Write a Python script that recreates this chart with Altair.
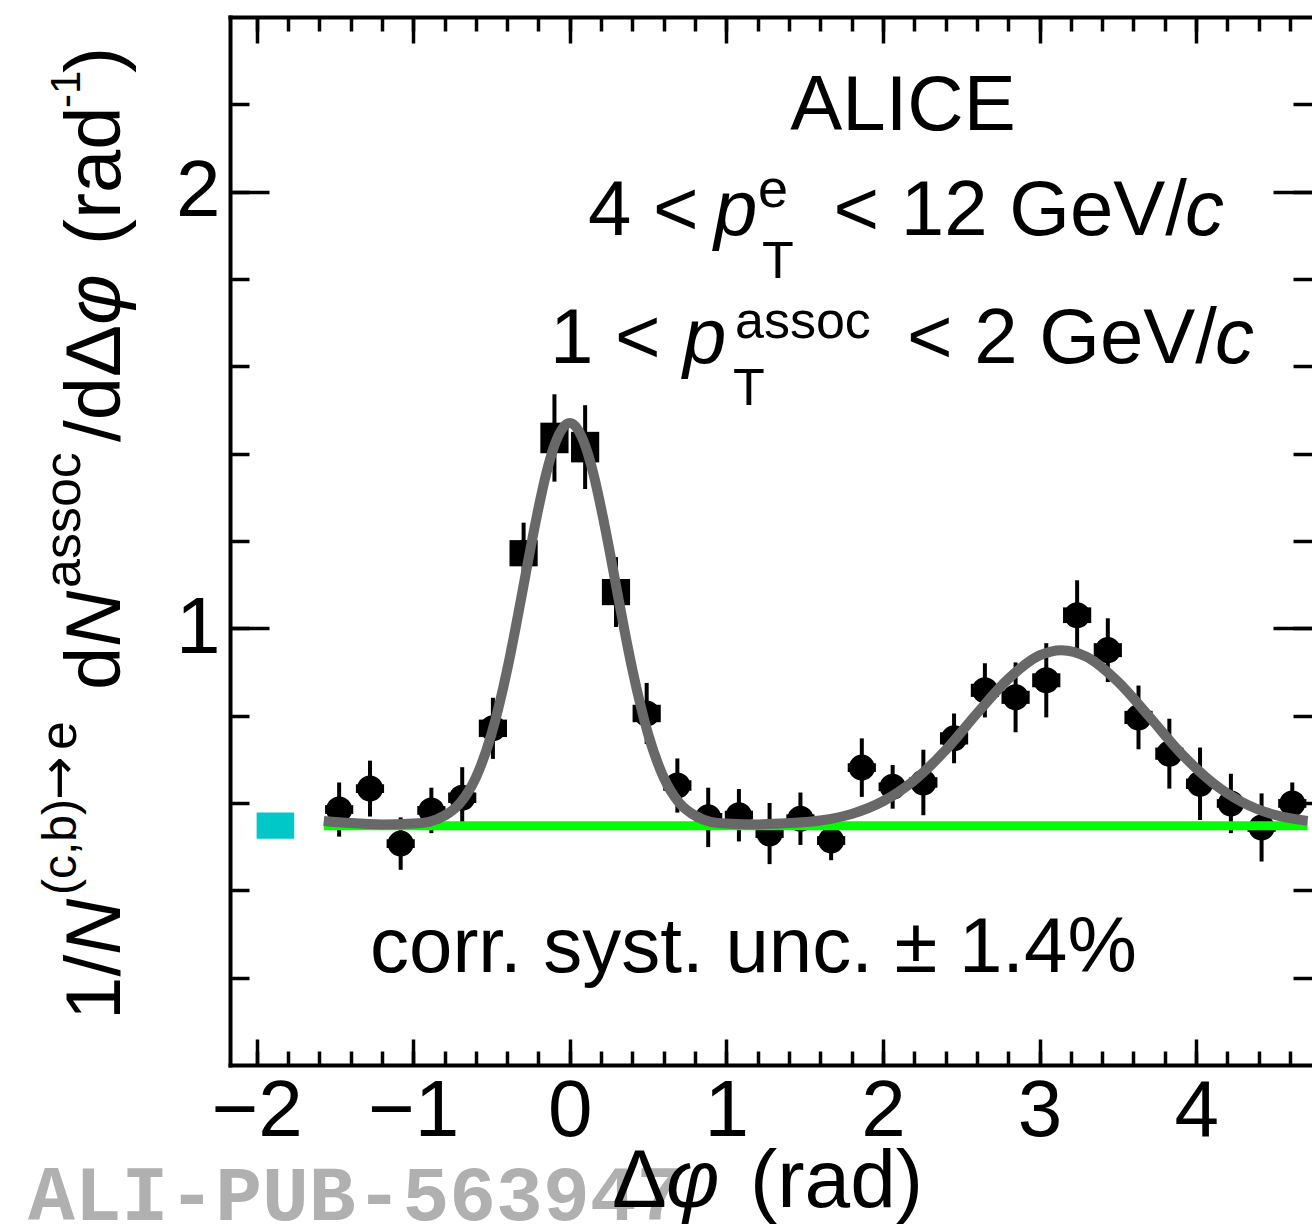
import altair as alt
import pandas as pd

# ---------------- data ----------------
dphi = [-1.473, -1.276, -1.080, -0.884, -0.687, -0.491, -0.295, -0.098,
        0.098, 0.295, 0.491, 0.687, 0.884, 1.080, 1.276, 1.473,
        1.669, 1.865, 2.062, 2.258, 2.454, 2.651, 2.847, 3.043,
        3.240, 3.436, 3.632, 3.829, 4.025, 4.222, 4.418, 4.614]
yield_vals = [0.585, 0.633, 0.507, 0.583, 0.612, 0.771, 1.172, 1.436,
              1.415, 1.083, 0.805, 0.640, 0.567, 0.572, 0.530, 0.564,
              0.514, 0.681, 0.637, 0.647, 0.748, 0.858, 0.842, 0.881,
              1.030, 0.950, 0.796, 0.713, 0.644, 0.599, 0.544, 0.599]
stat_err = [0.062, 0.064, 0.060, 0.052, 0.070, 0.070, 0.070, 0.100,
            0.096, 0.080, 0.070, 0.062, 0.068, 0.060, 0.070, 0.060,
            0.045, 0.067, 0.050, 0.075, 0.057, 0.062, 0.080, 0.085,
            0.080, 0.073, 0.073, 0.080, 0.083, 0.068, 0.078, 0.048]
syst_err = [0.010, 0.010, 0.010, 0.010, 0.012, 0.020, 0.030, 0.035,
            0.035, 0.030, 0.020, 0.012, 0.010, 0.010, 0.010, 0.010,
            0.010, 0.010, 0.010, 0.012, 0.014, 0.015, 0.015, 0.016,
            0.018, 0.016, 0.015, 0.014, 0.012, 0.010, 0.010, 0.010]
bin_half = 0.09

fit_x = [-1.571, -1.4, -1.2, -1.0, -0.9, -0.8, -0.7, -0.6, -0.5, -0.4, -0.35,
         -0.3, -0.25, -0.2, -0.15, -0.1, -0.05, 0.0, 0.05, 0.1, 0.15, 0.2,
         0.25, 0.3, 0.35, 0.4, 0.5, 0.6, 0.7, 0.8, 0.9, 1.0, 1.2, 1.4, 1.6,
         1.8, 2.0, 2.2, 2.4, 2.6, 2.8, 3.0, 3.14, 3.3, 3.5, 3.7, 3.9, 4.1,
         4.3, 4.5, 4.712]
fit_y = [0.559, 0.554, 0.551, 0.553, 0.557, 0.571, 0.600, 0.658, 0.758, 0.905, 0.994,
         1.089, 1.185, 1.275, 1.355, 1.417, 1.456, 1.470, 1.456, 1.417, 1.355, 1.275,
         1.185, 1.089, 0.994, 0.905, 0.758, 0.658, 0.600, 0.571, 0.557, 0.553, 0.551, 0.554, 0.560,
         0.575, 0.604, 0.652, 0.721, 0.805, 0.884, 0.938, 0.950, 0.935, 0.878, 0.798, 0.715, 0.648,
         0.601, 0.573, 0.559]

baseline_x = [-1.571, 4.712]
baseline_y = [0.548, 0.548]

corr_box_x = [-2.0, -1.76]
corr_box_y = [0.518, 0.578]

x_major = [-2, -1, 0, 1, 2, 3, 4]
x_minor = [-2.0, -1.8, -1.6, -1.4, -1.2, -1.0, -0.8, -0.6, -0.4, -0.2, 0.0,
           0.2, 0.4, 0.6, 0.8, 1.0, 1.2, 1.4, 1.6, 1.8, 2.0, 2.2, 2.4, 2.6,
           2.8, 3.0, 3.2, 3.4, 3.6, 3.8, 4.0, 4.2, 4.4, 4.6]
y_major = [1, 2]
y_minor = [0.2, 0.4, 0.6, 0.8, 1.0, 1.2, 1.4, 1.6, 1.8, 2.0, 2.2]

# ---------------- layout ----------------
W, H = 1082, 1048
LEFT, TOP = 230, 17
XD = [-2.17, 4.74]
YD = [0.0, 2.4]
FONT = "Liberation Sans"
ARROW_FONT = "DejaVu Sans"
xs = alt.Scale(domain=XD, nice=False, zero=False)
ys = alt.Scale(domain=YD, nice=False, zero=False)

pts = pd.DataFrame({
    "x": dphi, "y": yield_vals,
    "lo": [v - e for v, e in zip(yield_vals, stat_err)],
    "hi": [v + e for v, e in zip(yield_vals, stat_err)],
    "slo": [v - e for v, e in zip(yield_vals, syst_err)],
    "shi": [v + e for v, e in zip(yield_vals, syst_err)],
    "xl": [v - bin_half for v in dphi],
    "xr": [v + bin_half for v in dphi],
})
fit = pd.DataFrame({"x": fit_x, "y": fit_y})
base = pd.DataFrame({"x": baseline_x, "y": baseline_y})
cbox = pd.DataFrame({"x": [corr_box_x[0]], "x2": [corr_box_x[1]],
                     "y": [corr_box_y[0]], "y2": [corr_box_y[1]]})

X = lambda f: alt.X(f, type="quantitative", scale=xs, axis=None)
Y = lambda f: alt.Y(f, type="quantitative", scale=ys, axis=None)

syst = alt.Chart(pts).mark_rect(color="black").encode(
    x=X("xl"), x2="xr", y=Y("slo"), y2="shi")
errs = alt.Chart(pts).mark_rule(color="black", strokeWidth=4).encode(
    x=X("x"), y=Y("lo"), y2="hi")
dots = alt.Chart(pts).mark_circle(color="black", opacity=1, size=680).encode(
    x=X("x"), y=Y("y"))
green = alt.Chart(base).mark_line(color="#00ff00", strokeWidth=9).encode(
    x=X("x"), y=Y("y"))
gray = alt.Chart(fit).mark_line(color="#686868", strokeWidth=10,
                                interpolate="monotone").encode(
    x=X("x"), y=Y("y"))
cyan = alt.Chart(cbox).mark_rect(color="#00c8c8").encode(
    x=X("x"), x2="x2", y=Y("y"), y2="y2")

# ---------------- axes (frame with inward ticks) ----------------
one = pd.DataFrame({"x": [0.0], "y": [1.0]})
TW = 3.5


def carrier(xaxis, yaxis):
    return alt.Chart(one).mark_point(opacity=0).encode(
        x=alt.X("x:Q", scale=xs, axis=xaxis),
        y=alt.Y("y:Q", scale=ys, axis=yaxis))


lab = dict(labelFont=FONT, labelFontSize=80, labelColor="black")
ax1 = carrier(
    alt.Axis(orient="bottom", values=x_major, format="d", ticks=False,
             domain=True, domainColor="black", domainWidth=4, domainCap="square",
             labelPadding=7, labelFlush=False, labelOverlap=False, grid=False,
             title=None, **lab),
    alt.Axis(orient="left", values=y_major, format="d", ticks=False,
             domain=True, domainColor="black", domainWidth=4, domainCap="square",
             labelPadding=10, labelFlush=False, labelOverlap=False, grid=False,
             title=None, **lab))
tick = dict(labels=False, domain=False, grid=False, title=None,
            tickColor="black", tickWidth=TW)
ax2 = carrier(alt.Axis(orient="top", offset=-H, values=x_major, tickSize=26, **tick),
              alt.Axis(orient="right", offset=-W, values=y_major, tickSize=39, **tick))
ax3 = carrier(alt.Axis(orient="top", offset=-H, values=x_minor, tickSize=14, **tick),
              alt.Axis(orient="right", offset=-W, values=y_minor, tickSize=19, **tick))
ax4 = carrier(alt.Axis(orient="bottom", offset=-H, values=x_major, tickSize=26,
                       labels=False, domain=True, domainColor="black",
                       domainWidth=4, domainCap="square", grid=False, title=None,
                       tickColor="black", tickWidth=TW),
              alt.Axis(orient="left", offset=-W, values=y_major, tickSize=39, **tick))
ax5 = carrier(alt.Axis(orient="bottom", offset=-H, values=x_minor, tickSize=14, **tick),
              alt.Axis(orient="left", offset=-W, values=y_minor, tickSize=19, **tick))

# ---------------- text ----------------
# (text, page x, page y, size, style, align, angle, font, color, weight)
texts = [
    ("ALI-PUB-563947", 28, 1220, 78, "normal", "left", 0, "Liberation Mono", "#b0b0b0", "bold"),
    ("ALICE", 903, 130, 78, "normal", "center", 0, FONT, "black", "normal"),
    ("4 <", 588, 235, 78, "normal", "left", 0, FONT, "black", "normal"),
    ("p", 714, 235, 78, "italic", "left", 0, FONT, "black", "normal"),
    ("e", 758, 207, 54, "normal", "left", 0, FONT, "black", "normal"),
    ("T", 762, 278, 52, "normal", "left", 0, FONT, "black", "normal"),
    ("< 12 GeV/", 1187, 235, 78, "normal", "right", 0, FONT, "black", "normal"),
    ("c", 1224, 235, 78, "italic", "right", 0, FONT, "black", "normal"),
    ("1 <", 550, 363, 78, "normal", "left", 0, FONT, "black", "normal"),
    ("p", 683, 363, 78, "italic", "left", 0, FONT, "black", "normal"),
    ("assoc", 735, 338, 52, "normal", "left", 0, FONT, "black", "normal"),
    ("T", 733, 405, 52, "normal", "left", 0, FONT, "black", "normal"),
    ("< 2 GeV/", 1217, 363, 78, "normal", "right", 0, FONT, "black", "normal"),
    ("c", 1254, 363, 78, "italic", "right", 0, FONT, "black", "normal"),
    ("corr. syst. unc. ± 1.4%", 370, 972, 78, "normal", "left", 0, FONT, "black", "normal"),
    # x title
    ("Δ", 612, 1207, 82, "normal", "left", 0, FONT, "black", "normal"),
    ("φ", 666, 1207, 82, "italic", "left", 0, FONT, "black", "normal"),
    ("(rad)", 750, 1207, 82, "normal", "left", 0, FONT, "black", "normal"),
    # y title (rotated, reading upward)
    ("1/", 120, 1020, 78, "normal", "left", 270, FONT, "black", "normal"),
    ("N", 120, 955, 78, "italic", "left", 270, FONT, "black", "normal"),
    ("(c,b)", 76, 895, 48, "normal", "left", 270, FONT, "black", "normal"),
    ("→", 76, 800, 52, "normal", "left", 270, ARROW_FONT, "black", "normal"),
    ("e", 76, 750, 52, "normal", "left", 270, FONT, "black", "normal"),
    ("d", 120, 690, 78, "normal", "left", 270, FONT, "black", "normal"),
    ("N", 120, 647, 78, "italic", "left", 270, FONT, "black", "normal"),
    ("assoc", 80, 588, 52, "normal", "left", 270, FONT, "black", "normal"),
    ("/d", 120, 442, 78, "normal", "left", 270, FONT, "black", "normal"),
    ("Δ", 120, 377, 78, "normal", "left", 270, FONT, "black", "normal"),
    ("φ", 120, 325, 78, "italic", "left", 270, FONT, "black", "normal"),
    ("(rad", 120, 245, 78, "normal", "left", 270, FONT, "black", "normal"),
    ("-1", 80, 108, 42, "normal", "left", 270, FONT, "black", "normal"),
    (")", 120, 73, 78, "normal", "left", 270, FONT, "black", "normal"),
]

text_layers = []
for (t, px, py, size, style, align, angle, font, color, weight) in texts:
    text_layers.append(
        alt.Chart(one).mark_text(
            align=align, baseline="alphabetic", font=font, fontSize=size,
            fontStyle=style, fontWeight=weight, color=color, angle=angle,
        ).encode(x=alt.value(px - LEFT), y=alt.value(py - TOP), text=alt.value(t))
    )

chart = alt.layer(
    ax1, ax2, ax3, ax4, ax5,
    syst, dots, errs, cyan, green, gray, *text_layers
).resolve_axis(x="independent", y="independent").properties(
    width=W, height=H,
    padding={"left": LEFT, "top": TOP, "right": 0, "bottom": 1228 - TOP - H},
    autosize=alt.AutoSizeParams(type="none"),
    background="white",
).configure_view(strokeWidth=0)

chart.save("out.html", embed_options={"renderer": "svg", "actions": False})
